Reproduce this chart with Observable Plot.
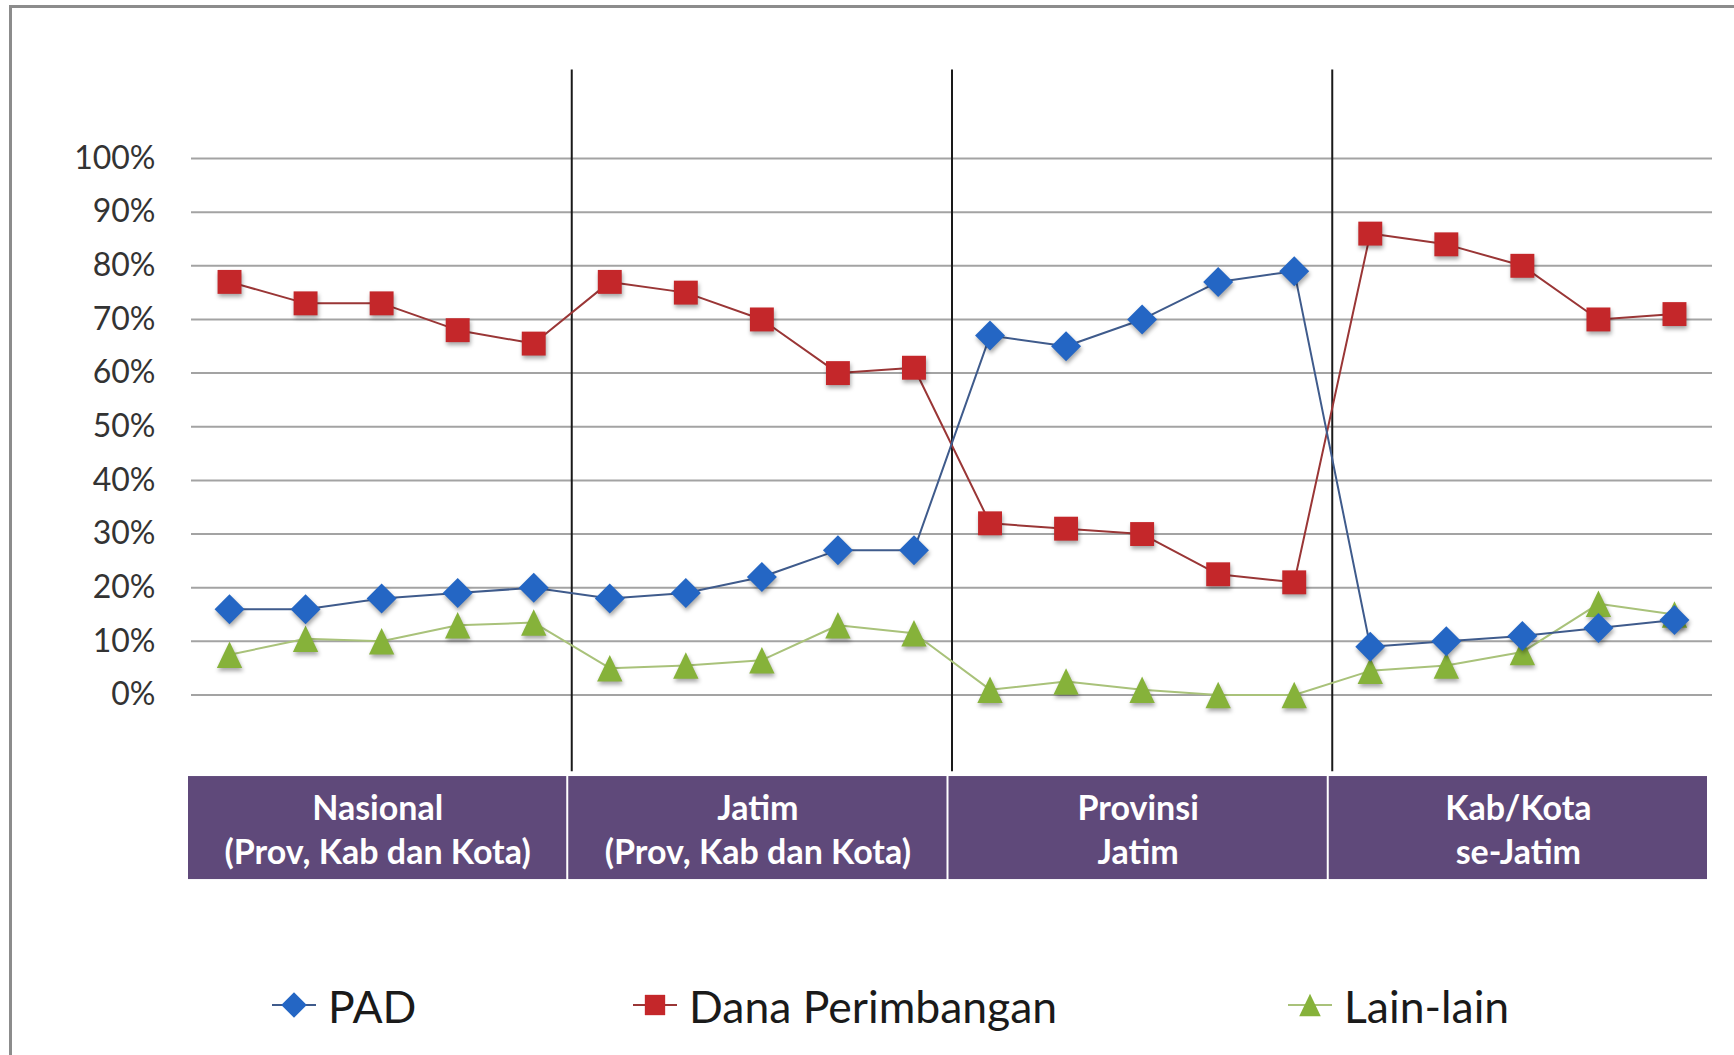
<!DOCTYPE html>
<html><head><meta charset="utf-8">
<script src="https://cdn.jsdelivr.net/npm/d3@7"></script>
<script src="https://cdn.jsdelivr.net/npm/@observablehq/plot@0.6"></script>
<style>
html,body{margin:0;padding:0;background:#fff;}
#wrap{position:relative;width:1734px;height:1055px;overflow:hidden;font-family:Lato,"Open Sans",sans-serif;background:#fff;}
#frame{position:absolute;left:9px;top:5px;width:1800px;height:1100px;border-top:3px solid #8c8c8c;border-left:3px solid #8c8c8c;box-sizing:border-box;}
#chart{position:absolute;left:0;top:0;}
#legend{position:absolute;left:0;top:975px;width:1734px;height:60px;}
.item{position:absolute;top:0;height:60px;display:flex;align-items:center;font-size:44.5px;color:#1a1a1a;white-space:nowrap;}
.item svg{margin-right:12px;overflow:visible;}
#chart g[aria-label="dot"] path{filter:drop-shadow(1px 3px 2px rgba(0,0,0,0.35));}
</style></head>
<body><div id="wrap"><div id="frame"></div><div id="chart"></div><div id="legend"></div></div>
<script>
// ---- data ----
const groups = ["Nasional\n(Prov, Kab dan Kota)", "Jatim\n(Prov, Kab dan Kota)", "Provinsi\nJatim", "Kab/Kota\nse-Jatim"];
const pointsPerGroup = 5;
const seriesNames = ["PAD", "Dana Perimbangan", "Lain-lain"];
const pad             = [16, 16, 18, 19, 20,   18, 19, 22, 27, 27,   67, 65, 70, 77, 79,   9, 10, 11, 12.5, 14];
const danaPerimbangan = [77, 73, 73, 68, 65.5, 77, 75, 70, 60, 61,   32, 31, 30, 22.5, 21, 86, 84, 80, 70, 71];
const lainLain        = [7.5, 10.5, 10, 13, 13.5, 5, 5.5, 6.5, 13, 11.5, 1, 2.5, 1, 0, 0, 4.5, 5.5, 8, 17, 15];
const yTicks = [0, 10, 20, 30, 40, 50, 60, 70, 80, 90, 100];

// ---- styles / layout ----
const style = {
  "PAD": {fill: "#2466c4", line: "#3f5b8c", symbol: "diamond2", r: 13.5},
  "Dana Perimbangan": {fill: "#c4272a", line: "#9a3636", symbol: "square", r: 13.5},
  "Lain-lain": {fill: "#86b23a", line: "#a9c27a", symbol: "triangle", r: 13}
};
const triSymbol = {
  draw(ctx, size) {
    const s = Math.sqrt(size);
    const w = s * 1.1, h = s * 1.15;
    ctx.moveTo(0, -h / 2); ctx.lineTo(w / 2, h / 2); ctx.lineTo(-w / 2, h / 2); ctx.closePath();
  }
};
const layout = {sepTop: 116.5, sepBottom: -14.3, boxTop: -15.2, boxBottom: -34.4, labelY: -24.7};

const values = {"PAD": pad, "Dana Perimbangan": danaPerimbangan, "Lain-lain": lainLain};
const n = groups.length * pointsPerGroup;
const rows = seriesNames.flatMap(s => values[s].map((v, i) => ({series: s, i, v})));
const groupRows = groups.map((g, k) => ({label: g, x1: k * pointsPerGroup - 0.5, x2: (k + 1) * pointsPerGroup - 0.5}));
const separators = groupRows.slice(1).map(d => d.x1);

const marks = [
  Plot.ruleY(yTicks, {stroke: "#a3a3a3", strokeWidth: 2}),
  Plot.axisY(yTicks, {tickSize: 0, tickPadding: 36, fontSize: 32, fill: "#333", tickFormat: d => d + "%", label: null}),
  Plot.ruleX(separators, {y1: layout.sepTop, y2: layout.sepBottom, stroke: "#1a1a1a", strokeWidth: 2}),
  Plot.rect(groupRows, {x1: "x1", x2: "x2", y1: layout.boxTop, y2: layout.boxBottom, fill: "#5f497a", insetLeft: 1, insetRight: 1, dx: -4}),
  Plot.text(groupRows, {x: d => (d.x1 + d.x2) / 2, y: layout.labelY, text: "label", fill: "#fff", fontWeight: "bold", fontSize: 34, lineHeight: 1.3, dx: -4})
];
for (const s of ["Lain-lain", "Dana Perimbangan", "PAD"]) {
  marks.push(Plot.line(rows.filter(d => d.series === s), {x: "i", y: "v", stroke: style[s].line, strokeWidth: 2}));
}
for (const s of ["Lain-lain", "Dana Perimbangan", "PAD"]) {
  const st = style[s];
  marks.push(Plot.dot(rows.filter(d => d.series === s), {x: "i", y: "v", fill: st.fill, stroke: "none", r: st.r, symbol: st.symbol === "triangle" ? triSymbol : st.symbol}));
}

const chart = Plot.plot({
  width: 1734, height: 900,
  marginLeft: 191, marginRight: 22, marginTop: 158, marginBottom: 205.5,
  style: {fontFamily: "Lato, 'Open Sans', sans-serif", background: "transparent"},
  x: {domain: [-0.5, n - 0.5], axis: null},
  y: {domain: [0, 100], axis: null},
  marks
});
document.getElementById("chart").appendChild(chart);

// ---- legend ----
const legendPos = {"PAD": 272, "Dana Perimbangan": 633, "Lain-lain": 1288};
const legend = d3.select("#legend");
for (const s of seriesNames) {
  const st = style[s];
  const item = legend.append("div").attr("class", "item").style("left", legendPos[s] + "px");
  const svg = item.append("svg").attr("width", 44).attr("height", 32);
  svg.append("line").attr("x1", 0).attr("x2", 44).attr("y1", 16).attr("y2", 16).attr("stroke", st.line).attr("stroke-width", 2);
  const sym = st.symbol === "triangle" ? triSymbol : (st.symbol === "square" ? d3.symbolSquare : d3.symbolDiamond2);
  const size = Math.PI * (st.r * 0.85) ** 2;
  svg.append("path").attr("transform", "translate(22,16)").attr("d", d3.symbol(sym, size)()).attr("fill", st.fill);
  item.append("span").text(s);
}
</script>
</body></html>
